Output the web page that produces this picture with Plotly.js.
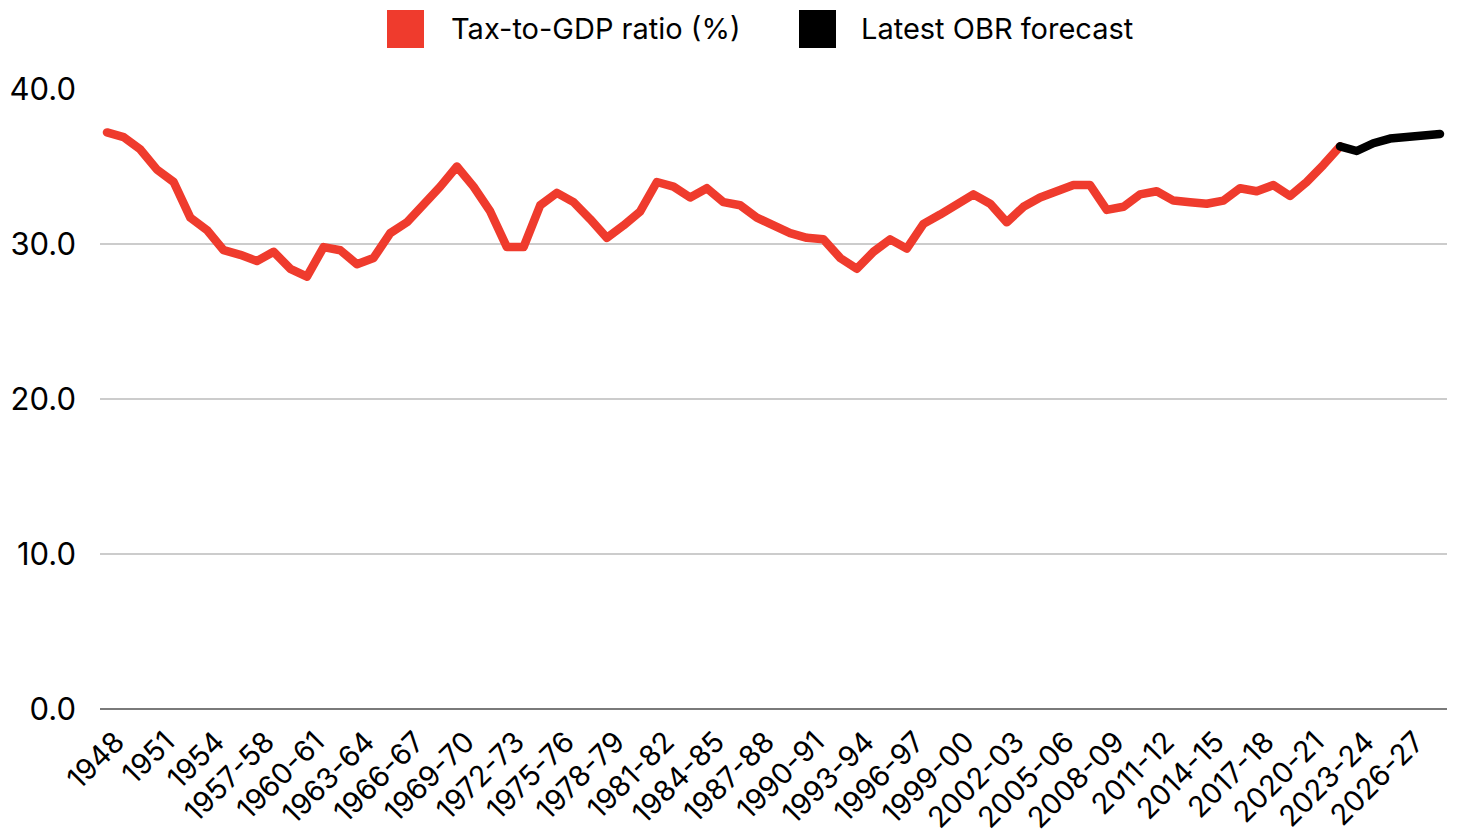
<!DOCTYPE html>
<html>
<head>
<meta charset="utf-8">
<script src="https://cdn.plot.ly/plotly-3.0.1.min.js"></script>
<style>
html, body { margin: 0; padding: 0; background: #fff; }
#chart { width: 1457px; height: 838px; }
.js-line { stroke-linejoin: round !important; stroke-linecap: round !important; }
</style>
</head>
<body>
<div id="chart"></div>
<script>
const categories = [
  "1948","1949","1950","1951","1952","1953","1954","1955","1956-57","1957-58",
  "1958-59","1959-60","1960-61","1961-62","1962-63","1963-64","1964-65","1965-66","1966-67","1967-68",
  "1968-69","1969-70","1970-71","1971-72","1972-73","1973-74","1974-75","1975-76","1976-77","1977-78",
  "1978-79","1979-80","1980-81","1981-82","1982-83","1983-84","1984-85","1985-86","1986-87","1987-88",
  "1988-89","1989-90","1990-91","1991-92","1992-93","1993-94","1994-95","1995-96","1996-97","1997-98",
  "1998-99","1999-00","2000-01","2001-02","2002-03","2003-04","2004-05","2005-06","2006-07","2007-08",
  "2008-09","2009-10","2010-11","2011-12","2012-13","2013-14","2014-15","2015-16","2016-17","2017-18",
  "2018-19","2019-20","2020-21","2021-22","2022-23","2023-24","2024-25","2025-26","2026-27","2027-28",
  "2028-29"
];

// Outturn tax-to-GDP ratio (%), 1948 to 2022-23
const taxToGdp = [
  37.2, 36.9, 36.1, 34.8, 34.0, 31.7, 30.9, 29.6, 29.3, 28.9,
  29.5, 28.4, 27.9, 29.8, 29.6, 28.7, 29.1, 30.7, 31.4, 32.5,
  33.7, 35.0, 33.7, 32.1, 29.8, 29.8, 32.5, 33.3, 32.7, 31.6,
  30.4, 31.2, 32.1, 34.0, 33.7, 33.0, 33.6, 32.7, 32.5, 31.7,
  31.2, 30.7, 30.4, 30.3, 29.1, 28.4, 29.5, 30.3, 29.7, 31.3,
  31.9, 32.6, 33.2, 32.6, 31.4, 32.4, 33.0, 33.4, 33.8, 33.8,
  32.2, 32.4, 33.2, 33.4, 32.8, 32.7, 32.6, 32.8, 33.6, 33.4,
  33.8, 33.1, 34.0, 35.1, 36.3
];

// Latest OBR forecast, 2022-23 to 2028-29
const obrForecast = [36.3, 36.0, 36.5, 36.8, 36.9, 37.0, 37.1];

const seriesNames = ["Tax-to-GDP ratio (%)", "Latest OBR forecast"];
const seriesColors = ["#EF3B2D", "#000000"];
const yTicks = [0, 10, 20, 30, 40];

const outturnX = categories.slice(0, taxToGdp.length);
const forecastX = categories.slice(taxToGdp.length - 1, taxToGdp.length - 1 + obrForecast.length);
const xTickVals = categories.filter((c, i) => i % 3 === 0);

const FONT = "Inter, 'Noto Sans', sans-serif";

const traces = [
  {
    type: "scatter", mode: "lines", name: seriesNames[0],
    x: outturnX, y: taxToGdp,
    line: { color: seriesColors[0], width: 8.5 },
    showlegend: false, hoverinfo: "x+y"
  },
  {
    type: "scatter", mode: "lines", name: seriesNames[1],
    x: forecastX, y: obrForecast,
    line: { color: seriesColors[1], width: 8.5 },
    showlegend: false, hoverinfo: "x+y"
  }
];

// Legend (drawn as swatches + labels above the plot)
const PW = 1347, PH = 620;
function px2x(px) { return (px - 100) / PW; }
function py2y(py) { return (709 - py) / PH; }
const legendSwatchLeft = [387, 799];
const legendTextLeft = [449, 859];

const shapes = seriesNames.map((n, i) => ({
  type: "rect", xref: "paper", yref: "paper",
  x0: px2x(legendSwatchLeft[i]), x1: px2x(legendSwatchLeft[i] + 37),
  y0: py2y(48), y1: py2y(10),
  fillcolor: seriesColors[i], line: { width: 0 }
}));
const annotations = seriesNames.map((n, i) => ({
  xref: "paper", yref: "paper",
  x: px2x(legendTextLeft[i]), y: py2y(28),
  xanchor: "left", yanchor: "middle",
  text: n, showarrow: false,
  font: { family: FONT, size: 29, color: "#000" }
}));

const layout = {
  width: 1457, height: 838,
  margin: { l: 100, r: 10, t: 89, b: 129, pad: 0 },
  paper_bgcolor: "#fff", plot_bgcolor: "#fff",
  showlegend: false,
  font: { family: FONT, size: 28, color: "#000" },
  xaxis: {
    type: "category",
    categoryorder: "array", categoryarray: categories,
    range: [-0.42, categories.length - 1 + 0.42],
    tickmode: "array", tickvals: xTickVals, ticktext: xTickVals,
    tickangle: -45,
    tickfont: { family: FONT, size: 29, color: "#000" },
    ticklabelshift: 9,
    ticklabelstandoff: 9,
    showgrid: false, zeroline: false,
    showline: false, ticks: ""
  },
  yaxis: {
    range: [0, 40],
    tickmode: "array", tickvals: yTicks,
    tickformat: ".1f",
    tickfont: { family: FONT, size: 31, color: "#000" },
    showgrid: true, gridcolor: "#cccccc", gridwidth: 1.5,
    zeroline: true, zerolinecolor: "#7a7a7a", zerolinewidth: 2,
    showline: false, ticks: "",
    ticklabelstandoff: 23
  },
  shapes: shapes,
  annotations: annotations
};

Plotly.newPlot("chart", traces, layout, { displayModeBar: false, staticPlot: true });
</script>
</body>
</html>
